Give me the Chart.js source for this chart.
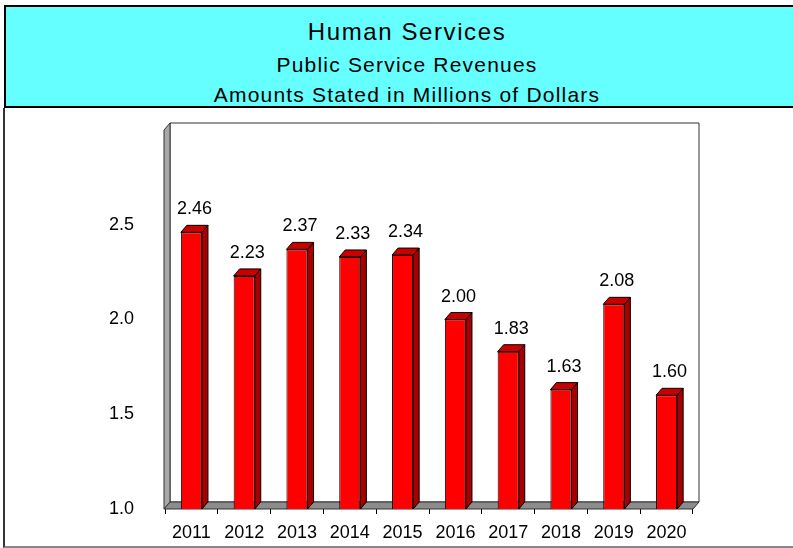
<!DOCTYPE html>
<html>
<head>
<meta charset="utf-8">
<script src="https://cdn.jsdelivr.net/npm/chart.js@4/dist/chart.umd.min.js"></script>
<style>
  html, body { margin: 0; padding: 0; background: #fff; overflow: hidden; }
  body { width: 793px; height: 548px; position: relative; font-family: "Liberation Sans", Arial, sans-serif; }
  #header {
    position: absolute; left: 4px; top: 5px; width: 810px; height: 99px;
    background: #66ffff; border: 2px solid #000;
  }
  #header div { position: absolute; left: 0; width: 802px; text-align: center; line-height: 1; color: #000; white-space: nowrap; }
  #t1 { top: 13px; font-size: 24px; letter-spacing: 1.6px; }
  #t2 { top: 47px; font-size: 21px; letter-spacing: 1.2px; }
  #t3 { top: 77px; font-size: 21px; letter-spacing: 1.2px; }
  #panel {
    position: absolute; left: 3px; top: 108px; width: 800px; height: 438px;
    border-left: 2px solid #333; border-bottom: 2px solid #888;
  }
  #chart { position: absolute; left: 4px; top: 108px; }
</style>
</head>
<body>
<div id="header">
  <div id="t1">Human Services</div>
  <div id="t2">Public Service Revenues</div>
  <div id="t3">Amounts Stated in Millions of Dollars</div>
</div>
<div id="panel"></div>
<canvas id="chart" width="789" height="437"></canvas>
<script>
const years = ['2011', '2012', '2013', '2014', '2015', '2016', '2017', '2018', '2019', '2020'];
const revenues = [2.46, 2.23, 2.37, 2.33, 2.34, 2.00, 1.83, 1.63, 2.08, 1.60];
const axisMin = 1.0;
const axisMax = 3.0;
const axisStep = 0.5;

// depth of the fake 3D extrusion
const DX = 6, DY = 7;

function poly(ctx, pts, fill) {
    ctx.beginPath();
    ctx.moveTo(pts[0][0], pts[0][1]);
    for (let i = 1; i < pts.length; i++) ctx.lineTo(pts[i][0], pts[i][1]);
    ctx.closePath();
    ctx.fillStyle = fill;
    ctx.fill();
    ctx.stroke();
}

const walls = {
    id: 'walls',
    beforeDatasetsDraw(chart) {
        const { ctx, chartArea: a } = chart;
        const l = a.left - 1, r = a.right, t = a.top, b = a.bottom;
        ctx.save();
        ctx.lineWidth = 1;
        ctx.strokeStyle = '#333';
        // back wall
        poly(ctx, [[l + DX, t - DY], [r + DX, t - DY], [r + DX, b - DY], [l + DX, b - DY]], '#fff');
        // left wall
        poly(ctx, [[l, b], [l, t], [l + DX, t - DY], [l + DX, b - DY]], '#a8a8a8');
        // floor
        poly(ctx, [[l, b], [r, b], [r + DX, b - DY], [l + DX, b - DY]], '#8c8c8c');
        ctx.restore();
    }
};

const barFaces = {
    id: 'barFaces',
    afterDatasetsDraw(chart) {
        const { ctx } = chart;
        const meta = chart.getDatasetMeta(0);
        const floor = chart.scales.y.getPixelForValue(axisMin);
        ctx.save();
        ctx.lineWidth = 1;
        ctx.strokeStyle = '#000';
        meta.data.forEach((bar, i) => {
            const x0 = bar.x - bar.width / 2, x1 = bar.x + bar.width / 2;
            const y = bar.y;
            poly(ctx, [[x1, y], [x1 + DX, y - DY], [x1 + DX, floor - DY], [x1, floor]], '#a80000');
            poly(ctx, [[x0, y], [x0 + DX, y - DY], [x1 + DX, y - DY], [x1, y]], '#c80000');

            ctx.fillStyle = '#000';
            ctx.font = '18px "Liberation Sans", Arial, sans-serif';
            ctx.textAlign = 'center';
            ctx.textBaseline = 'alphabetic';
            ctx.fillText(revenues[i].toFixed(2), bar.x + 3, y - 18);
        });
        ctx.restore();
    }
};

const ctx = document.getElementById('chart').getContext('2d');
new Chart(ctx, {
    type: 'bar',
    data: {
        labels: years,
        datasets: [{
            data: revenues,
            backgroundColor: '#ff0000',
            borderColor: '#000',
            borderWidth: 1,
            borderSkipped: false,
            barPercentage: 0.4,
            categoryPercentage: 1.0
        }]
    },
    options: {
        responsive: false,
        animation: false,
        events: [],
        layout: { padding: { left: 0, right: 100, top: 22, bottom: 0 } },
        plugins: {
            legend: { display: false },
            tooltip: { enabled: false }
        },
        scales: {
            x: {
                grid: {
                    display: true,
                    drawOnChartArea: false,
                    drawTicks: true,
                    tickLength: 5,
                    color: '#000',
                    offset: true
                },
                border: { display: false },
                ticks: {
                    color: '#000',
                    padding: 8,
                    font: { family: '"Liberation Sans", Arial, sans-serif', size: 18 }
                },
                afterFit(scale) {
                    scale.height = 36;
                    scale.paddingLeft = 0;
                    scale.paddingRight = 0;
                }
            },
            y: {
                min: axisMin,
                max: axisMax,
                grid: { display: false },
                border: { display: false },
                ticks: {
                    stepSize: axisStep,
                    padding: 23,
                    color: '#000',
                    font: { family: '"Liberation Sans", Arial, sans-serif', size: 18 },
                    callback: v => (v >= axisMax ? '' : v.toFixed(1))
                },
                afterFit(scale) {
                    scale.width = 161;
                    scale.paddingTop = 0;
                    scale.paddingBottom = 0;
                }
            }
        }
    },
    plugins: [walls, barFaces]
});
</script>
</body>
</html>
